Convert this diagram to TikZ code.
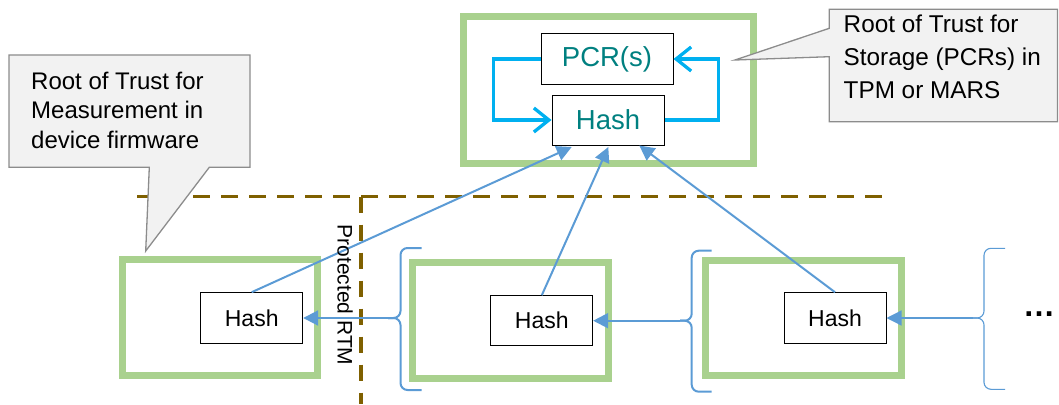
\documentclass[tikz,border=0pt]{standalone}
\usepackage{fontspec}
\setmainfont{Liberation Sans}
\usetikzlibrary{arrows.meta,calc}
\definecolor{boxgreen}{HTML}{A9D18E}
\definecolor{tealtext}{RGB}{0,128,128}
\definecolor{loopcyan}{HTML}{00B0F0}
\definecolor{linkblue}{HTML}{5B9BD5}
\definecolor{dashbrown}{HTML}{7F6000}
\definecolor{calloutfill}{HTML}{F2F2F2}
\definecolor{calloutline}{HTML}{8C8C8C}
\begin{document}
\begin{tikzpicture}[x=1pt,y=-1pt,
  greenbox/.style={draw=boxgreen, line width=7pt, inner sep=0pt},
  hashbox/.style={draw=black, line width=1pt, fill=white, inner sep=0pt, font=\fontsize{23}{28}\selectfont},
  topbox/.style={draw=black, line width=1pt, fill=white, inner sep=0pt, text=tealtext, font=\fontsize{27.5}{33}\selectfont},
  callout/.style={draw=calloutline, fill=calloutfill, line width=1.3pt, line join=miter},
  callouttext/.style={anchor=north west, inner sep=0pt, align=left},
  looparrow/.style={draw=loopcyan, line width=3.3pt, -{Straight Barb[length=15pt,width=24pt]}},
  linkarrow/.style={draw=linkblue, line width=2pt, -{Triangle[length=15pt,width=15pt]}},
  thinlink/.style={draw=linkblue, line width=1.3pt, -{Triangle[length=15pt,width=15pt]}},
  bracepath/.style={draw=linkblue, line width=2pt, rounded corners=7pt},
  thinbrace/.style={draw=linkblue, line width=1.1pt, rounded corners=7pt},
  dashline/.style={draw=dashbrown, line width=3.5pt, dash pattern=on 16.5pt off 11.5pt}
]
\useasboundingbox (0,0) rectangle (1059,404);

% dashed boundaries
\draw[dashline] (137,196.5) -- (885,196.5);
\draw[dashline] (361,196.5) -- (361,404);

% top container
\node[greenbox, minimum width=290.5pt, minimum height=146pt] (top) at (608.25,90) {};
\node[topbox, minimum width=132pt, minimum height=50pt] (pcr) at (607,59) {PCR(s)};
\node[topbox, minimum width=112pt, minimum height=50pt] (tophash) at (608,120) {Hash};

\draw[looparrow] (pcr.west) -- ++(-47,0) |- (tophash.west);
\draw[looparrow] (tophash.east) -- ++(53.7,0) |- (pcr.east);

% bottom containers
\node[greenbox, minimum width=195pt, minimum height=116.2pt] (b1) at (220,317.6) {};
\node[greenbox, minimum width=195.6pt, minimum height=115.6pt] (b2) at (510.5,320.5) {};
\node[greenbox, minimum width=196pt, minimum height=115.3pt] (b3) at (803.7,317.7) {};

\node[hashbox, minimum width=102pt, minimum height=50.6pt] (h1) at (251.7,318) {Hash};
\node[hashbox, minimum width=101.7pt, minimum height=50pt] (h2) at (541.8,320.7) {Hash};
\node[hashbox, minimum width=102pt, minimum height=50.6pt] (h3) at (835,318) {Hash};

% braces
\coordinate (c1) at (388,318);
\coordinate (c2) at (680,320.7);
\coordinate (c3) at (973,318);
\draw[bracepath] (421.7,248) -- (400.5,248) -- (400.5,318) -- (c1);
\draw[bracepath] (c1) -- (400.5,318) -- (400.5,390) -- (421.7,390);
\draw[bracepath] (711.7,250.7) -- (691.7,250.7) -- (691.7,320.7) -- (c2);
\draw[bracepath] (c2) -- (691.7,320.7) -- (691.7,391.7) -- (711.7,391.7);
\draw[thinbrace] (1005,248.3) -- (984,248.3) -- (984,318) -- (c3);
\draw[thinbrace] (c3) -- (984,318) -- (984,389.3) -- (1005,389.3);

% chain arrows
\draw[linkarrow] (c1) -- (h1.east);
\draw[linkarrow] (c2) -- (h2.east);
\draw[thinlink] (c3) -- (h3.east);

% extend arrows to top hash
\draw[linkarrow] (h1.north) -- ($(tophash.south)+(-36.3,1.5)$);
\draw[linkarrow] (h2.north) -- ($(tophash.south)+(0.3,1.5)$);
\draw[linkarrow] (h3.north) -- ($(tophash.south)+(31.3,0)$);

% protected RTM label
\node[rotate=-90, inner sep=0pt, font=\fontsize{21}{25}\selectfont] (prot) at (345,295) {Protected RTM};

% ellipsis
\node[inner sep=0pt, font=\fontsize{32}{36}\selectfont\bfseries] (more) at (1039,314) {…};

% callouts
\draw[callout] (9,55) -- (250,55) -- (250,167.3) -- (209.3,167.3) -- (145.7,251) -- (149.3,167.3) -- (9,167.3) -- cycle;
\node[callouttext, font=\fontsize{24}{29.7}\selectfont] (rtm) at (31,71.7) {Root of Trust for\\Measurement in\\device firmware};

\draw[callout] (829.3,9.3) -- (1057.5,9.3) -- (1057.5,121.7) -- (829.3,121.7) -- (829.3,56.7) -- (735,60) -- (829.3,28.3) -- cycle;
\node[callouttext, font=\fontsize{24.3}{33}\selectfont] (rts) at (843.5,15) {Root of Trust for\\Storage (PCRs) in\\TPM or MARS};
\end{tikzpicture}
\end{document}
